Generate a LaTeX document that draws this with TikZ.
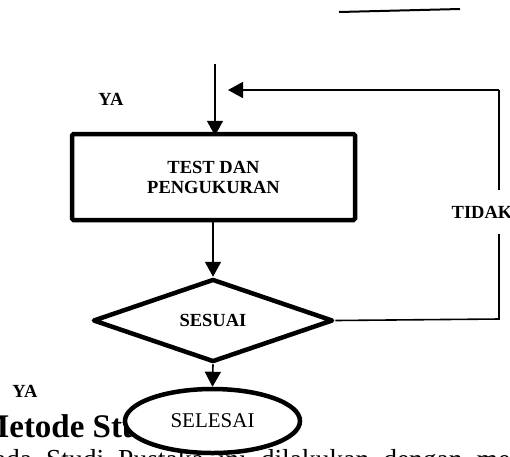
\documentclass[tikz,border=0pt]{standalone}
\usepackage{fontspec}
\setmainfont{Liberation Serif}
\usetikzlibrary{shapes.geometric,arrows.meta}
\begin{document}
\begin{tikzpicture}[x=1pt,y=-1pt,
  lbl/.style={font=\fontsize{18.5}{20}\selectfont\bfseries, inner sep=0pt},
  flow/.style={line width=1.6pt, -{Triangle[length=15pt,width=16pt]}},
  link/.style={line width=1.6pt},
  procbox/.style={draw, line width=4.5pt, rounded corners=1.5pt,
    minimum width=283pt, minimum height=86pt, inner sep=0pt, align=center,
    font=\fontsize{18.5}{20}\selectfont\bfseries},
  decision/.style={diamond, draw, line width=4.5pt, line join=round,
    inner sep=0pt, aspect=2.9, minimum width=240pt, minimum height=83pt,
    font=\fontsize{18.5}{20}\selectfont\bfseries},
  terminal/.style={ellipse, draw, fill=white, line width=4.5pt, inner sep=0pt,
    minimum width=175pt, minimum height=64pt,
    font=\fontsize{21}{24}\selectfont}
]
\useasboundingbox (0,0) rectangle (510,456);

% running text of the page behind the chart
\node[anchor=base west, inner sep=0pt, font=\fontsize{33}{36}\selectfont\bfseries]
  (head) at (-22,437) {Metode Studi Pustaka};
\node[anchor=base west, inner sep=0pt, font=\fontsize{27.5}{30}\selectfont]
  (body) at (-21.5,468) {\spaceskip=14pt Pada Studi Pustaka ini dilakukan dengan membaca};

% stray rule at the top
\coordinate (r1) at (339,12);
\coordinate (r2) at (460,9);
\draw[line width=2pt] (r1) -- (r2);

% flowchart nodes
\node[procbox] (box) at (213.5,177) {TEST DAN\\PENGUKURAN};
\node[decision] (dec) at (213,320.5) {\raisebox{-4pt}{SESUAI}};
\node[terminal] (end) at (212.5,421) {\raisebox{-5pt}{SELESAI}};

\node[lbl] (ya1) at (111,99) {YA};
\node[lbl] (ya2) at (25,391) {YA};

% incoming flow
\coordinate (in) at (215,64);
\draw[flow] (in) -- ([yshift=-4pt]in |- box.north);

% main flow
\draw[flow] (dec.north |- box.south) -- (dec.north);
\draw[flow] (dec.south) -- (end.north);

% loop back when not matching
\coordinate (lr) at (499,319);
\coordinate (lt) at (499,90);
\coordinate (lend) at (228,90);
\draw[link] (dec.east) -- (lr) -- (lt);
\draw[flow] (lt) -- (lend);
\node[lbl, fill=white, minimum height=44pt] (tidak) at (482,212) {TIDAK};
\end{tikzpicture}
\end{document}
